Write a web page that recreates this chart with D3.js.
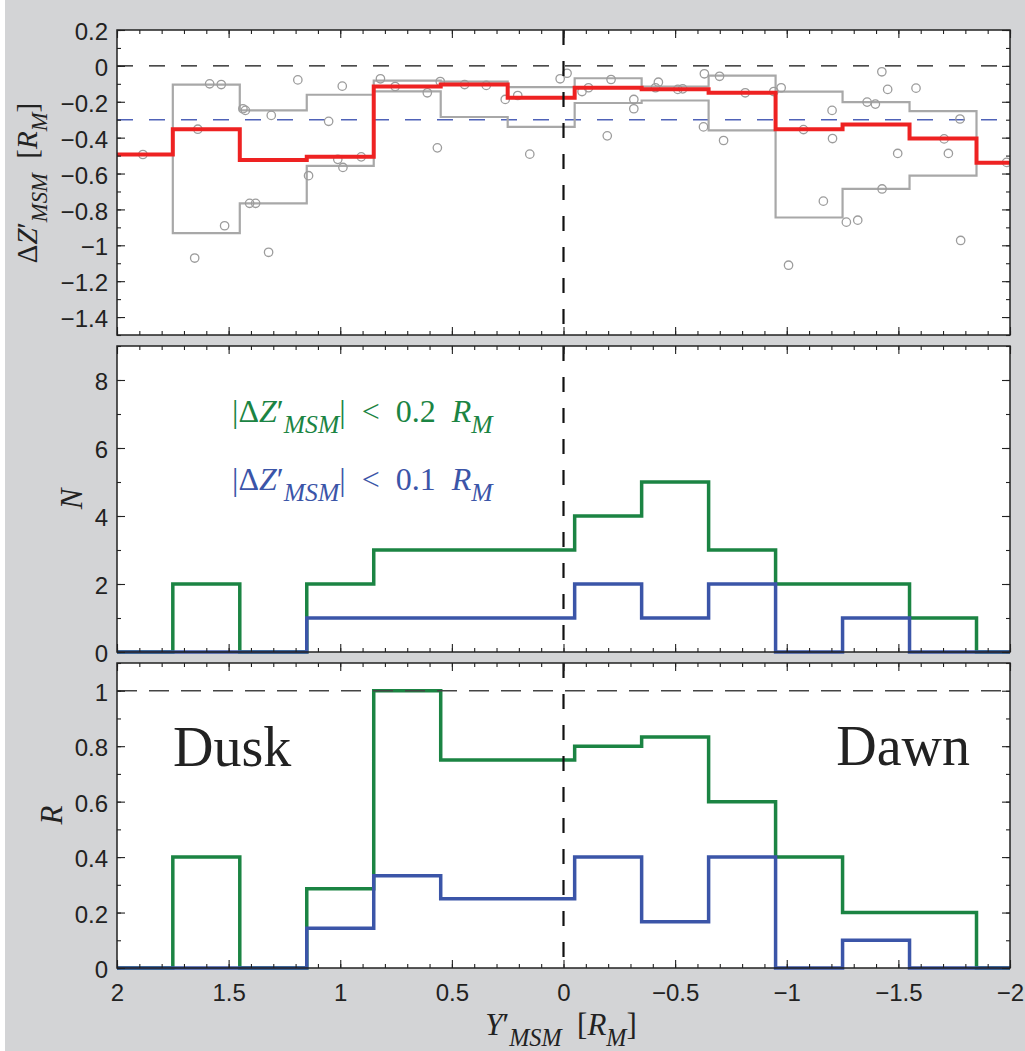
<!DOCTYPE html>
<html><head><meta charset="utf-8">
<script src="https://cdn.jsdelivr.net/npm/d3@7"></script>
<style>body{margin:0;background:#d3d4d6;} svg{display:block}</style>
</head><body><svg id="c" width="1025" height="1051"></svg>
<script>
// ---------- data ----------
const binCenters = [1.9, 1.6, 1.3, 1.0, 0.7, 0.4, 0.1, -0.2, -0.5, -0.8, -1.1, -1.4, -1.7, -2.0];
const binHalfWidth = 0.15;
const dzMedian = [-0.494, -0.353, -0.525, -0.507, -0.115, -0.104, -0.177, -0.122, -0.130, -0.150, -0.353, -0.327, -0.405, -0.540];
const dzUpper  = [-0.494, -0.104, -0.248, -0.161, -0.082, -0.088, -0.118, -0.069, -0.115, -0.054, -0.143, -0.202, -0.252, -0.540];
const dzLower  = [-0.494, -0.932, -0.766, -0.557, -0.142, -0.285, -0.340, -0.207, -0.193, -0.359, -0.845, -0.686, -0.612, -0.540];
const pointY = [1.884,1.652,1.638,1.585,1.533,1.518,1.436,1.425,1.406,1.379,1.321,1.309,1.190,1.142,1.052,1.011,0.991,0.988,0.906,0.820,0.754,0.610,0.565,0.552,0.443,0.346,0.261,0.205,0.151,0.015,-0.016,-0.083,-0.112,-0.196,-0.213,-0.315,-0.315,-0.412,-0.425,-0.512,-0.534,-0.627,-0.631,-0.699,-0.717,-0.814,-0.942,-0.975,-1.008,-1.075,-1.164,-1.203,-1.205,-1.267,-1.318,-1.360,-1.397,-1.426,-1.427,-1.452,-1.497,-1.579,-1.705,-1.724,-1.776,-1.779,-1.985];
const pointDZ = [-0.494,-1.071,-0.353,-0.100,-0.104,-0.891,-0.239,-0.248,-0.766,-0.766,-1.039,-0.276,-0.078,-0.612,-0.309,-0.521,-0.113,-0.566,-0.507,-0.072,-0.115,-0.150,-0.457,-0.087,-0.104,-0.109,-0.187,-0.165,-0.492,-0.072,-0.041,-0.143,-0.122,-0.390,-0.076,-0.187,-0.239,-0.122,-0.091,-0.131,-0.128,-0.340,-0.044,-0.058,-0.416,-0.150,-0.143,-0.122,-1.111,-0.355,-0.754,-0.248,-0.405,-0.871,-0.860,-0.202,-0.213,-0.033,-0.686,-0.131,-0.488,-0.124,-0.407,-0.488,-0.296,-0.973,-0.538];
const countWide   = [0, 2, 0, 2, 3, 3, 3, 4, 5, 3, 2, 2, 1, 0];
const countNarrow = [0, 0, 0, 1, 1, 1, 1, 2, 1, 2, 0, 1, 0, 0];
const ratioWide   = [0, 0.4, 0, 0.286, 1, 0.75, 0.75, 0.8, 0.833, 0.6, 0.4, 0.2, 0.2, 0];
const ratioNarrow = [0, 0, 0, 0.143, 0.333, 0.25, 0.25, 0.4, 0.167, 0.4, 0, 0.1, 0, 0];
const xTickValues = [2, 1.5, 1, 0.5, 0, -0.5, -1, -1.5, -2];
const xTickLabels = ["2", "1.5", "1", "0.5", "0", "\u22120.5", "\u22121", "\u22121.5", "\u22122"];
const dzTickValues = [0.2, 0, -0.2, -0.4, -0.6, -0.8, -1, -1.2, -1.4];
const dzTickLabels = ["0.2", "0", "\u22120.2", "\u22120.4", "\u22120.6", "\u22120.8", "\u22121", "\u22121.2", "\u22121.4"];
const nTickValues = [0, 2, 4, 6, 8];
const nTickLabels = ["0", "2", "4", "6", "8"];
const rTickValues = [0, 0.2, 0.4, 0.6, 0.8, 1];
const rTickLabels = ["0", "0.2", "0.4", "0.6", "0.8", "1"];
const dzRef = [0, -0.3];
const rRef = 1;

// ---------- layout ----------
const svg = d3.select("#c");
const L = 117, R = 1010;
const GREEN = "#1b8443", BLUE = "#3b55a8", RED = "#ee2222", GRAYL = "#a8a8a8", GRAYC = "#9c9c9c";
const TICKFONT = "'Liberation Sans', Arial, sans-serif";
const SERIF = "'Liberation Serif', 'Times New Roman', serif";

svg.append("rect").attr("width", 1025).attr("height", 1051).attr("fill", "#d3d4d6");
svg.append("rect").attr("width", 5).attr("height", 1051).attr("fill", "#ffffff");

const x = d3.scaleLinear().domain([2, -2]).range([L, R]);

const panels = [
  {top: 30, bottom: 335, domain: [-1.5, 0.2], ticks: dzTickValues, labels: dzTickLabels, minor: d3.range(-15, 3).map(i => i / 10)},
  {top: 346, bottom: 652, domain: [0, 9], ticks: nTickValues, labels: nTickLabels, minor: d3.range(0, 10)},
  {top: 663, bottom: 968, domain: [0, 1.1], ticks: rTickValues, labels: rTickLabels, minor: d3.range(0, 12).map(i => i / 10)}
];
panels.forEach((p, i) => {
  p.y = d3.scaleLinear().domain(p.domain).range([p.bottom, p.top]);
  svg.append("rect").attr("x", L).attr("y", p.top).attr("width", R - L).attr("height", p.bottom - p.top).attr("fill", "#fff");
  svg.append("clipPath").attr("id", "clip" + i).append("rect")
    .attr("x", L).attr("y", p.top - 3).attr("width", R - L).attr("height", p.bottom - p.top + 6);
  p.g = svg.append("g").attr("clip-path", `url(#clip${i})`);
});

function stepPoints(vals) {
  const pts = binCenters.map((c, i) => [c + binHalfWidth, vals[i]]);
  pts.push([binCenters[binCenters.length - 1] - binHalfWidth, vals[vals.length - 1]]);
  return pts;
}
function stairs(g, y, vals, color, width) {
  const line = d3.line().x(d => x(d[0])).y(d => y(d[1])).curve(d3.curveStepAfter);
  g.append("path").attr("d", line(stepPoints(vals))).attr("fill", "none")
    .attr("stroke", color).attr("stroke-width", width).attr("stroke-linejoin", "miter").attr("stroke-linecap", "butt");
}
function hline(g, y, v, color, w, dash) {
  g.append("line").attr("x1", L).attr("x2", R).attr("y1", y(v)).attr("y2", y(v))
    .attr("stroke", color).attr("stroke-width", w).attr("stroke-dasharray", dash);
}
function vzero(p) {
  p.g.append("line").attr("x1", x(0)).attr("x2", x(0)).attr("y1", p.top).attr("y2", p.bottom)
    .attr("stroke", "#111").attr("stroke-width", 2.2).attr("stroke-dasharray", "15,16");
}

// ---------- panel 1 ----------
{
  const p = panels[0];
  hline(p.g, p.y, dzRef[0], "#111", 1.3, "16,16");
  hline(p.g, p.y, dzRef[1], "#4f62b8", 1.4, "16,16");
  stairs(p.g, p.y, dzUpper, GRAYL, 2.2);
  stairs(p.g, p.y, dzLower, GRAYL, 2.2);
  p.g.selectAll("circle.pt").data(pointY).join("circle").attr("class", "pt")
    .attr("cx", d => x(d)).attr("cy", (d, i) => p.y(pointDZ[i])).attr("r", 4.2)
    .attr("fill", "none").attr("stroke", GRAYC).attr("stroke-width", 1.3);
  stairs(p.g, p.y, dzMedian, RED, 4);
  vzero(p);
}
// ---------- panel 2 ----------
{
  const p = panels[1];
  stairs(p.g, p.y, countWide, GREEN, 3.5);
  stairs(p.g, p.y, countNarrow, BLUE, 3.5);
  vzero(p);
}
// ---------- panel 3 ----------
{
  const p = panels[2];
  stairs(p.g, p.y, ratioWide, GREEN, 3.5);
  stairs(p.g, p.y, ratioNarrow, BLUE, 3.5);
  hline(p.g, p.y, rRef, "#444", 1.5, "20,12");
  vzero(p);
}

// ---------- axes ----------
panels.forEach((p, i) => {
  const last = i === panels.length - 1;
  const ax = svg.append("g").attr("class", "axes");
  ax.append("g").attr("transform", `translate(0,${p.bottom})`)
    .call(d3.axisBottom(x).tickValues(xTickValues).tickSize(-8).tickPadding(16)
      .tickFormat((d, k) => last ? xTickLabels[k] : ""));
  ax.append("g").attr("transform", `translate(0,${p.bottom})`)
    .call(d3.axisBottom(x).tickValues(d3.range(-20, 21).map(k => k / 10)).tickSize(-4).tickFormat(""));
  ax.append("g").attr("transform", `translate(0,${p.top})`)
    .call(d3.axisTop(x).tickValues(xTickValues).tickSize(-8).tickFormat(""));
  ax.append("g").attr("transform", `translate(0,${p.top})`)
    .call(d3.axisTop(x).tickValues(d3.range(-20, 21).map(k => k / 10)).tickSize(-4).tickFormat(""));
  ax.append("g").attr("transform", `translate(${L},0)`)
    .call(d3.axisLeft(p.y).tickValues(p.ticks).tickSize(-8).tickPadding(9).tickFormat((d, k) => p.labels[k]));
  ax.append("g").attr("transform", `translate(${L},0)`)
    .call(d3.axisLeft(p.y).tickValues(p.minor).tickSize(-4).tickFormat(""));
  ax.append("g").attr("transform", `translate(${R},0)`)
    .call(d3.axisRight(p.y).tickValues(p.ticks).tickSize(-8).tickFormat(""));
  ax.append("g").attr("transform", `translate(${R},0)`)
    .call(d3.axisRight(p.y).tickValues(p.minor).tickSize(-4).tickFormat(""));
  ax.selectAll(".domain").remove();
  ax.selectAll(".tick line").attr("stroke", "#222").attr("stroke-width", 1.1);
  ax.selectAll(".tick text").attr("fill", "#222").style("font-family", TICKFONT).style("font-size", "24px");
  svg.append("rect").attr("x", L).attr("y", p.top).attr("width", R - L).attr("height", p.bottom - p.top)
    .attr("fill", "none").attr("stroke", "#222").attr("stroke-width", 1.5);
});
svg.selectAll(".axes .tick text").filter(function () { return d3.select(this).attr("dy") === "0.32em"; }).attr("dy", "0.4em");

// ---------- math text ----------
function addMath(sel, parts, fs, subScale) {
  let shift = 0;
  parts.forEach(p => {
    const target = p.sub ? fs * 0.34 : 0;
    sel.append("tspan").text(p.t)
      .attr("dy", target - shift)
      .style("font-style", p.it ? "italic" : "normal")
      .style("font-size", (p.sub ? fs * (subScale || 0.72) : fs) + "px");
    shift = target;
  });
}
function mathLabel(xp, yp, rot, anchor, parts, fs, color, subScale) {
  const t = svg.append("text").attr("transform", `translate(${xp},${yp}) rotate(${rot})`)
    .attr("text-anchor", anchor).style("font-family", SERIF).attr("fill", color || "#222");
  addMath(t, parts, fs, subScale);
  return t;
}
const dzParts = [{t: "\u0394"}, {t: "Z", it: 1}, {t: "\u2032"}, {t: "MSM", it: 1, sub: 1}, {t: "\u2002["}, {t: "R", it: 1}, {t: "M", it: 1, sub: 1}, {t: "]"}];
mathLabel(37, 183, -90, "middle", dzParts, 29, "#222", 0.78);
mathLabel(82, 499, -90, "middle", [{t: "N", it: 1}], 31);
mathLabel(62, 815, -90, "middle", [{t: "R", it: 1}], 31);
mathLabel(561, 1035, 0, "middle", [{t: "Y", it: 1}, {t: "\u2032"}, {t: "MSM", it: 1, sub: 1}, {t: "\u2002["}, {t: "R", it: 1}, {t: "M", it: 1, sub: 1}, {t: "]"}], 31, "#222", 0.78);

const legendParts = v => [{t: "|\u0394"}, {t: "Z", it: 1}, {t: "\u2032"}, {t: "MSM", it: 1, sub: 1}, {t: "|\u2002<\u2002" + v + "\u2002"}, {t: "R", it: 1}, {t: "M", it: 1, sub: 1}];
mathLabel(232, 422, 0, "start", legendParts("0.2"), 32, GREEN, 0.8);
mathLabel(232, 490, 0, "start", legendParts("0.1"), 32, BLUE, 0.8);

svg.append("text").attr("x", 173).attr("y", 766).text("Dusk").style("font-family", SERIF).style("font-size", "56px").attr("fill", "#222");
svg.append("text").attr("x", 970).attr("y", 765).attr("text-anchor", "end").text("Dawn").style("font-family", SERIF).style("font-size", "56px").attr("fill", "#222");
</script></body></html>
